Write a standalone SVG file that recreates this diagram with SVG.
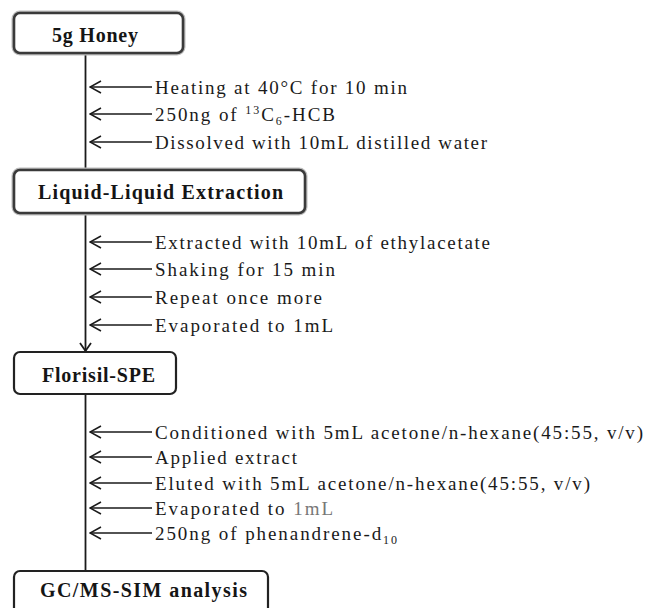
<svg xmlns="http://www.w3.org/2000/svg" width="649" height="608" viewBox="0 0 649 608">
<style>
.box{fill:#fff;stroke:#222;stroke-width:2.2}
.soft{stroke:#3a3a3a;stroke-width:2.6}
.halo{fill:none;stroke:#bbb;stroke-width:5}
.lbl{font-family:"Liberation Serif","Times New Roman",serif;font-weight:bold;font-size:20px;fill:#151515}
.t{font-family:"Liberation Serif","Times New Roman",serif;font-size:19px;fill:#1a1a1a}
.ln{stroke:#1a1a1a;stroke-width:1.8;fill:none}
.ar{stroke:#1a1a1a;stroke-width:1.6;fill:none}
.sm{font-size:12px}
</style>
<defs>
<marker id="open" viewBox="0 0 13 14" refX="12" refY="7" markerWidth="13" markerHeight="14" markerUnits="userSpaceOnUse" orient="auto">
<path d="M1,1 L12,7 L1,13" fill="none" stroke="#1a1a1a" stroke-width="1.5"/>
</marker>
</defs>

<g id="connectors">
<line class="ln" x1="85.5" y1="53" x2="85.5" y2="170"/>
<line class="ln" x1="85.5" y1="213" x2="85.5" y2="351"/>
<path class="ln" d="M80,343 L85.5,351 L91,343"/>
<line class="ln" x1="85.5" y1="394" x2="85.5" y2="572"/>

<line class="ar" x1="152" y1="87" x2="90" y2="87" marker-end="url(#open)"/>
<line class="ar" x1="152" y1="114" x2="90" y2="114" marker-end="url(#open)"/>
<line class="ar" x1="152" y1="142" x2="90" y2="142" marker-end="url(#open)"/>

<line class="ar" x1="152" y1="242" x2="90" y2="242" marker-end="url(#open)"/>
<line class="ar" x1="152" y1="269" x2="90" y2="269" marker-end="url(#open)"/>
<line class="ar" x1="152" y1="297" x2="90" y2="297" marker-end="url(#open)"/>
<line class="ar" x1="152" y1="325" x2="90" y2="325" marker-end="url(#open)"/>

<line class="ar" x1="152" y1="432" x2="90" y2="432" marker-end="url(#open)"/>
<line class="ar" x1="152" y1="457" x2="90" y2="457" marker-end="url(#open)"/>
<line class="ar" x1="152" y1="483" x2="90" y2="483" marker-end="url(#open)"/>
<line class="ar" x1="152" y1="508" x2="90" y2="508" marker-end="url(#open)"/>
<line class="ar" x1="152" y1="533" x2="90" y2="533" marker-end="url(#open)"/>
</g>

<g id="node-honey">
<rect class="halo" x="14" y="13" width="169" height="40" rx="6"/>
<rect class="box soft" x="14" y="13" width="169" height="40" rx="6"/>
<text class="lbl" x="52" y="42" textLength="86" lengthAdjust="spacing">5g Honey</text>
</g>

<g id="node-lle">
<rect class="halo" x="14" y="170" width="291" height="43" rx="6"/>
<rect class="box soft" x="14" y="170" width="291" height="43" rx="6"/>
<text class="lbl" x="38" y="199" textLength="245" lengthAdjust="spacing">Liquid-Liquid Extraction</text>
</g>

<g id="node-spe">
<rect class="box" x="14" y="352" width="162" height="42" rx="6"/>
<text class="lbl" x="42" y="382" textLength="113" lengthAdjust="spacing">Florisil-SPE</text>
</g>

<g id="node-gcms">
<rect class="box" x="14" y="571" width="254" height="50" rx="6"/>
<text class="lbl" x="40" y="597" textLength="207" lengthAdjust="spacing">GC/MS-SIM analysis</text>
</g>

<g id="step-labels">
<text class="t" x="155" y="94" textLength="252" lengthAdjust="spacing">Heating at 40°C for 10 min</text>
<text class="t" x="155" y="121" textLength="180" lengthAdjust="spacing">250ng of <tspan class="sm" dy="-7">13</tspan><tspan dy="7">C</tspan><tspan class="sm" dy="4">6</tspan><tspan dy="-4">-HCB</tspan></text>
<text class="t" x="155" y="149" textLength="332" lengthAdjust="spacing">Dissolved with 10mL distilled water</text>

<text class="t" x="155" y="249" textLength="335" lengthAdjust="spacing">Extracted with 10mL of ethylacetate</text>
<text class="t" x="155" y="276" textLength="180" lengthAdjust="spacing">Shaking for 15 min</text>
<text class="t" x="155" y="304" textLength="167" lengthAdjust="spacing">Repeat once more</text>
<text class="t" x="155" y="332" textLength="178" lengthAdjust="spacing">Evaporated to 1mL</text>

<text class="t" x="155" y="439" textLength="488" lengthAdjust="spacing">Conditioned with 5mL acetone/n-hexane(45:55, v/v)</text>
<text class="t" x="155" y="464" textLength="142" lengthAdjust="spacing">Applied extract</text>
<text class="t" x="155" y="490" textLength="435" lengthAdjust="spacing">Eluted with 5mL acetone/n-hexane(45:55, v/v)</text>
<text class="t" x="155" y="515" textLength="178" lengthAdjust="spacing">Evaporated to <tspan fill="#777">1mL</tspan></text>
<text class="t" x="155" y="540" textLength="242" lengthAdjust="spacing">250ng of phenandrene-d<tspan class="sm" dy="4">10</tspan></text>
</g>
</svg>
